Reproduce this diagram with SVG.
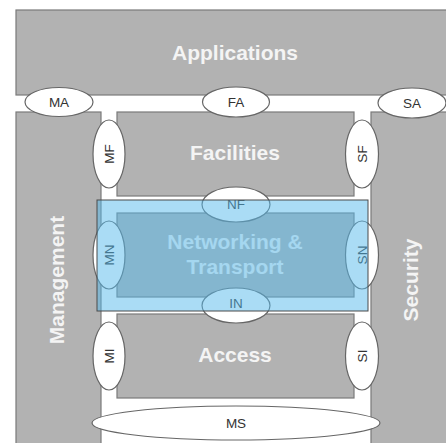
<svg xmlns="http://www.w3.org/2000/svg" width="446" height="443" viewBox="0 0 446 443">
<style>
.blk{fill:#b2b2b2;stroke:#7a7a7a;stroke-width:1.2}
.big{font-family:"Liberation Sans",Arial,sans-serif;font-weight:bold;font-size:21px;fill:#f4f4f4;text-anchor:middle}
.if{fill:#ffffff;stroke:#666666;stroke-width:1.2}
.lbl{font-family:"Liberation Sans",Arial,sans-serif;font-size:13.5px;fill:#333333;text-anchor:middle}
.ov{fill:#55b9eb;fill-opacity:0.5;stroke:#4a4a4a;stroke-width:1}
</style>
<rect width="446" height="443" fill="#ffffff"/>
<g id="applications">
<rect class="blk" x="16" y="10" width="440" height="85"/>
<text class="big" x="235" y="60">Applications</text>
</g>
<g id="management">
<rect class="blk" x="16" y="112" width="85" height="340"/>
<text class="big" transform="translate(64,280) rotate(-90)">Management</text>
</g>
<g id="security">
<rect class="blk" x="371" y="112" width="85" height="340"/>
<text class="big" transform="translate(418,280) rotate(-90)">Security</text>
</g>
<g id="facilities">
<rect class="blk" x="117" y="112" width="237" height="84"/>
<text class="big" x="235" y="160">Facilities</text>
</g>
<g id="networking">
<rect class="blk" x="117" y="213" width="237" height="84"/>
</g>
<g id="access">
<rect class="blk" x="117" y="314" width="237" height="84"/>
<text class="big" x="235" y="362">Access</text>
</g>
<g id="connectors">
<g id="MA"><ellipse class="if" cx="59" cy="102" rx="34" ry="14.5"/><text class="lbl" x="59" y="107">MA</text></g>
<g id="FA"><ellipse class="if" cx="236" cy="102" rx="33.5" ry="15"/><text class="lbl" x="236" y="107">FA</text></g>
<g id="SA"><ellipse class="if" cx="412" cy="103" rx="34" ry="15"/><text class="lbl" x="412" y="108">SA</text></g>
<g id="MF"><ellipse class="if" cx="109" cy="154" rx="16" ry="34"/><text class="lbl" transform="translate(114,154) rotate(-90)">MF</text></g>
<g id="SF"><ellipse class="if" cx="362" cy="154" rx="16.5" ry="34"/><text class="lbl" transform="translate(367,154) rotate(-90)">SF</text></g>
<g id="NF"><ellipse class="if" cx="236" cy="204.5" rx="34" ry="17.5"/><text class="lbl" x="236" y="209">NF</text></g>
<g id="MN"><ellipse class="if" cx="109" cy="255" rx="16" ry="34"/><text class="lbl" transform="translate(114,255) rotate(-90)">MN</text></g>
<g id="SN"><ellipse class="if" cx="362" cy="255" rx="16.5" ry="34"/><text class="lbl" transform="translate(367,255) rotate(-90)">SN</text></g>
<g id="IN"><ellipse class="if" cx="236" cy="305.5" rx="34" ry="17.5"/><text class="lbl" x="236" y="307.5">IN</text></g>
<g id="MI"><ellipse class="if" cx="109" cy="356" rx="16" ry="34"/><text class="lbl" transform="translate(114,356) rotate(-90)">MI</text></g>
<g id="SI"><ellipse class="if" cx="362" cy="356" rx="16.5" ry="34"/><text class="lbl" transform="translate(367,356) rotate(-90)">SI</text></g>
<g id="MS"><ellipse class="if" cx="236" cy="423" rx="144" ry="17"/><text class="lbl" x="236" y="428">MS</text></g>
</g>
<g id="networking-transport">
<text class="big" x="235" y="249">Networking &amp;</text>
<text class="big" x="235" y="274">Transport</text>
<rect class="ov" x="97" y="200" width="271" height="111"/>
</g>
</svg>
